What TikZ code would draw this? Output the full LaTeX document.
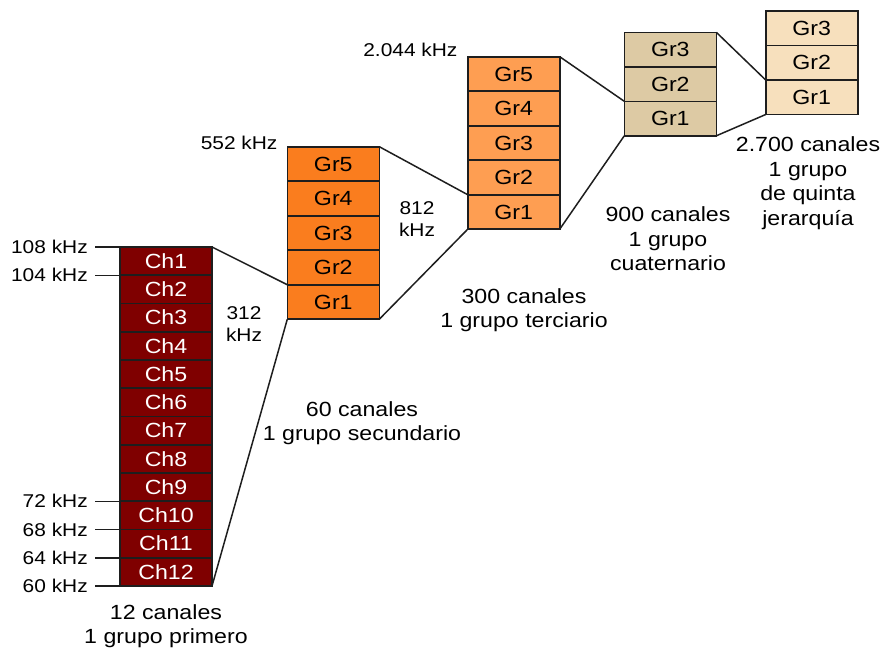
\documentclass[tikz,border=0pt]{standalone}
\usepackage{fontspec}
\setmainfont{Liberation Sans}[FakeStretch=1.13]
\usetikzlibrary{positioning}
\definecolor{chred}{HTML}{7F0000}
\definecolor{secorange}{HTML}{FA7D1E}
\definecolor{terorange}{HTML}{FE9E52}
\definecolor{cuatan}{HTML}{DDCAA4}
\definecolor{quibeige}{HTML}{F7E0BD}
\definecolor{edgegray}{HTML}{1E1E1E}
\def\cw{92pt}
\tikzstyle{cell}=[draw=edgegray,line width=1.6pt,minimum width=\cw,outer sep=0pt,inner sep=0pt]
\tikzstyle{chcell}=[cell,fill=chred,text=white,minimum height=28.25pt]
\tikzstyle{grcell}=[cell,minimum height=34.5pt]
\tikzstyle{freq}=[inner xsep=7pt,inner ysep=0pt,font=\fontsize{18.5}{21.5}\selectfont]
\tikzstyle{lab}=[align=center,font=\fontsize{20.5}{24.5}\selectfont]
\tikzstyle{khz}=[align=center,font=\fontsize{18.5}{21.5}\selectfont]
\newcommand{\newCell}[4]{\node[#3](#1)[#4]{#2};}
\newcommand{\newLink}[2]{\draw[line width=1.5pt,edgegray] (#1) -- (#2);}

\begin{document}
\begin{tikzpicture}[x=1pt,y=-1pt,node distance=0pt,
      font=\fontsize{20.5}{24.5}\selectfont
      ]
      \useasboundingbox (0,0) rectangle (880,651);

      % primer grupo: 12 canales
      \newCell{ch1}{Ch1}{chcell,anchor=north west}{at={(120,247)}}
      \newCell{ch2}{Ch2}{chcell}{below=of ch1}
      \newCell{ch3}{Ch3}{chcell}{below=of ch2}
      \newCell{ch4}{Ch4}{chcell}{below=of ch3}
      \newCell{ch5}{Ch5}{chcell}{below=of ch4}
      \newCell{ch6}{Ch6}{chcell}{below=of ch5}
      \newCell{ch7}{Ch7}{chcell}{below=of ch6}
      \newCell{ch8}{Ch8}{chcell}{below=of ch7}
      \newCell{ch9}{Ch9}{chcell}{below=of ch8}
      \newCell{ch10}{Ch10}{chcell}{below=of ch9}
      \newCell{ch11}{Ch11}{chcell}{below=of ch10}
      \newCell{ch12}{Ch12}{chcell}{below=of ch11}

      % frecuencias
      \node[freq,left=25pt of ch1.north west] (f108) {108 kHz};
      \node[freq,left=25pt of ch1.south west] (f104) {104 kHz};
      \node[freq,left=25pt of ch9.south west] (f72) {72 kHz};
      \node[freq,left=25pt of ch10.south west] (f68) {68 kHz};
      \node[freq,left=25pt of ch11.south west] (f64) {64 kHz};
      \node[freq,left=25pt of ch12.south west] (f60) {60 kHz};
      \newLink{f108.east}{ch1.north west}
      \newLink{f104.east}{ch1.south west}
      \newLink{f72.east}{ch9.south west}
      \newLink{f68.east}{ch10.south west}
      \newLink{f64.east}{ch11.south west}
      \newLink{f60.east}{ch12.south west}

      % grupo secundario
      \newCell{sec5}{Gr5}{grcell,fill=secorange,anchor=north west}{at={(287.3,146.7)}}
      \newCell{sec4}{Gr4}{grcell,fill=secorange}{below=of sec5}
      \newCell{sec3}{Gr3}{grcell,fill=secorange}{below=of sec4}
      \newCell{sec2}{Gr2}{grcell,fill=secorange}{below=of sec3}
      \newCell{sec1}{Gr1}{grcell,fill=secorange}{below=of sec2}

      % grupo terciario
      \newCell{ter5}{Gr5}{grcell,fill=terorange,anchor=north west}{at={(467.7,56.7)}}
      \newCell{ter4}{Gr4}{grcell,fill=terorange}{below=of ter5}
      \newCell{ter3}{Gr3}{grcell,fill=terorange}{below=of ter4}
      \newCell{ter2}{Gr2}{grcell,fill=terorange}{below=of ter3}
      \newCell{ter1}{Gr1}{grcell,fill=terorange}{below=of ter2}

      % grupo cuaternario
      \newCell{cua3}{Gr3}{grcell,fill=cuatan,anchor=north west}{at={(624.3,32.3)}}
      \newCell{cua2}{Gr2}{grcell,fill=cuatan}{below=of cua3}
      \newCell{cua1}{Gr1}{grcell,fill=cuatan}{below=of cua2}

      % quinta jerarquia
      \newCell{qui3}{Gr3}{grcell,fill=quibeige,anchor=north west}{at={(765.7,11)}}
      \newCell{qui2}{Gr2}{grcell,fill=quibeige}{below=of qui3}
      \newCell{qui1}{Gr1}{grcell,fill=quibeige}{below=of qui2}

      \newLink{ch1.north east}{sec1.north west}
      \newLink{ch12.south east}{sec1.south west}
      \newLink{sec5.north east}{ter1.north west}
      \newLink{sec1.south east}{ter1.south west}
      \newLink{ter5.north east}{cua1.north west}
      \newLink{ter1.south east}{cua1.south west}
      \newLink{cua3.north east}{qui1.north west}
      \newLink{cua1.south east}{qui1.south west}

      % textos
      \node[khz,anchor=east] (k552) at (281,143) {552 kHz};
      \node[khz,anchor=east] (k2044) at (461,50) {2.044 kHz};
      \node[khz] (k312) at (244,324) {312\\kHz};
      \node[khz] (k812) at (417,219) {812\\kHz};
      \node[lab] (n12) at (166,626) {12 canales\\1 grupo primero};
      \node[lab] (n60) at (362,423) {60 canales\\1 grupo secundario};
      \node[lab] (n300) at (524,310) {300 canales\\1 grupo terciario};
      \node[lab] (n900) at (668,239) {900 canales\\1 grupo\\cuaternario};
      \node[lab] (n2700) at (808,183) {2.700 canales\\1 grupo\\de quinta\\jerarquía};
    \end{tikzpicture}
\end{document}
